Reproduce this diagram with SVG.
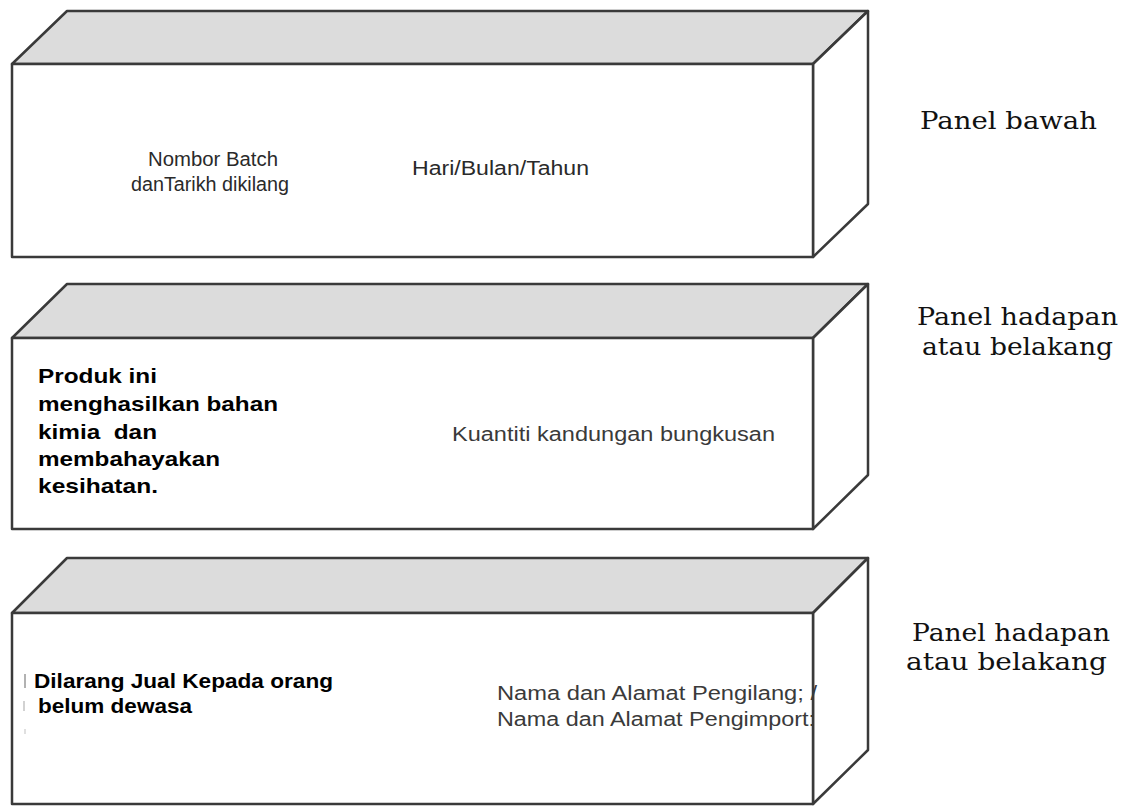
<svg xmlns="http://www.w3.org/2000/svg" width="1130" height="806" viewBox="0 0 1130 806">
<style>
.edge{stroke:#3a3a3a;stroke-width:2.5;stroke-linejoin:round}
.top{fill:#dcdcdc}
.face{fill:#ffffff}
.reg{font-family:"Liberation Sans",Arial,sans-serif;font-size:20px;fill:#2a2a2a}
.gray{font-family:"Liberation Sans",Arial,sans-serif;font-size:20px;fill:#3a3a3a}
.bold{font-family:"Liberation Sans",Arial,sans-serif;font-size:20.5px;font-weight:bold;fill:#000;white-space:pre}
.lab{font-family:"DejaVu Serif","Liberation Serif",serif;font-size:24.5px;fill:#111}
.mark{stroke:#999;stroke-width:1.5}
</style>
<rect width="1130" height="806" fill="#ffffff"/>
<g id="box-bawah">
<polygon class="edge top" points="12,64 67,11 868,11 813,64"/>
<polygon class="edge face" points="813,64 868,11 868,204 813,257"/>
<rect class="edge face" x="12" y="64" width="801" height="193"/>
<text class="reg" x="148" y="166" textLength="130" lengthAdjust="spacingAndGlyphs">Nombor Batch</text>
<text class="reg" x="131" y="191" textLength="158" lengthAdjust="spacingAndGlyphs">danTarikh dikilang</text>
<text class="reg" x="412" y="175" textLength="177" lengthAdjust="spacingAndGlyphs">Hari/Bulan/Tahun</text>
</g>
<g id="box-hadapan-1">
<polygon class="edge top" points="12,338 67,284 868,284 813,338"/>
<polygon class="edge face" points="813,338 868,284 868,475 813,529"/>
<rect class="edge face" x="12" y="338" width="801" height="191"/>
<text class="bold" x="38" y="383" textLength="119" lengthAdjust="spacingAndGlyphs">Produk ini</text>
<text class="bold" x="38" y="411" textLength="240" lengthAdjust="spacingAndGlyphs">menghasilkan bahan</text>
<text class="bold" x="38" y="439" textLength="119" lengthAdjust="spacingAndGlyphs">kimia  dan</text>
<text class="bold" x="38" y="466" textLength="182" lengthAdjust="spacingAndGlyphs">membahayakan</text>
<text class="bold" x="38" y="493" textLength="120" lengthAdjust="spacingAndGlyphs">kesihatan.</text>
<text class="gray" x="452" y="441" textLength="323" lengthAdjust="spacingAndGlyphs">Kuantiti kandungan bungkusan</text>
</g>
<g id="box-hadapan-2">
<polygon class="edge top" points="12,613 67,558 868,558 813,613"/>
<polygon class="edge face" points="813,613 868,558 868,750 813,804"/>
<rect class="edge face" x="12" y="613" width="801" height="191"/>
<line class="mark" x1="25" y1="674" x2="25" y2="688"/>
<line class="mark" x1="24" y1="701" x2="24" y2="711" stroke-opacity="0.6"/>
<line class="mark" x1="25" y1="729" x2="25" y2="734" stroke-opacity="0.4"/>
<text class="bold" x="34" y="688" textLength="299" lengthAdjust="spacingAndGlyphs">Dilarang Jual Kepada orang</text>
<text class="bold" x="38" y="713" textLength="154" lengthAdjust="spacingAndGlyphs">belum dewasa</text>
<text class="gray" x="497" y="700" textLength="320" lengthAdjust="spacingAndGlyphs">Nama dan Alamat Pengilang; /</text>
<text class="gray" x="497" y="726" textLength="318" lengthAdjust="spacingAndGlyphs">Nama dan Alamat Pengimport:</text>
</g>
<g id="labels">
<text class="lab" x="920" y="129" textLength="177" lengthAdjust="spacingAndGlyphs">Panel bawah</text>
<text class="lab" x="917" y="325" textLength="201" lengthAdjust="spacingAndGlyphs">Panel hadapan</text>
<text class="lab" x="922" y="355" textLength="191" lengthAdjust="spacingAndGlyphs">atau belakang</text>
<text class="lab" x="912" y="641" textLength="198" lengthAdjust="spacingAndGlyphs">Panel hadapan</text>
<text class="lab" x="906" y="670" textLength="201" lengthAdjust="spacingAndGlyphs">atau belakang</text>
</g>
</svg>
